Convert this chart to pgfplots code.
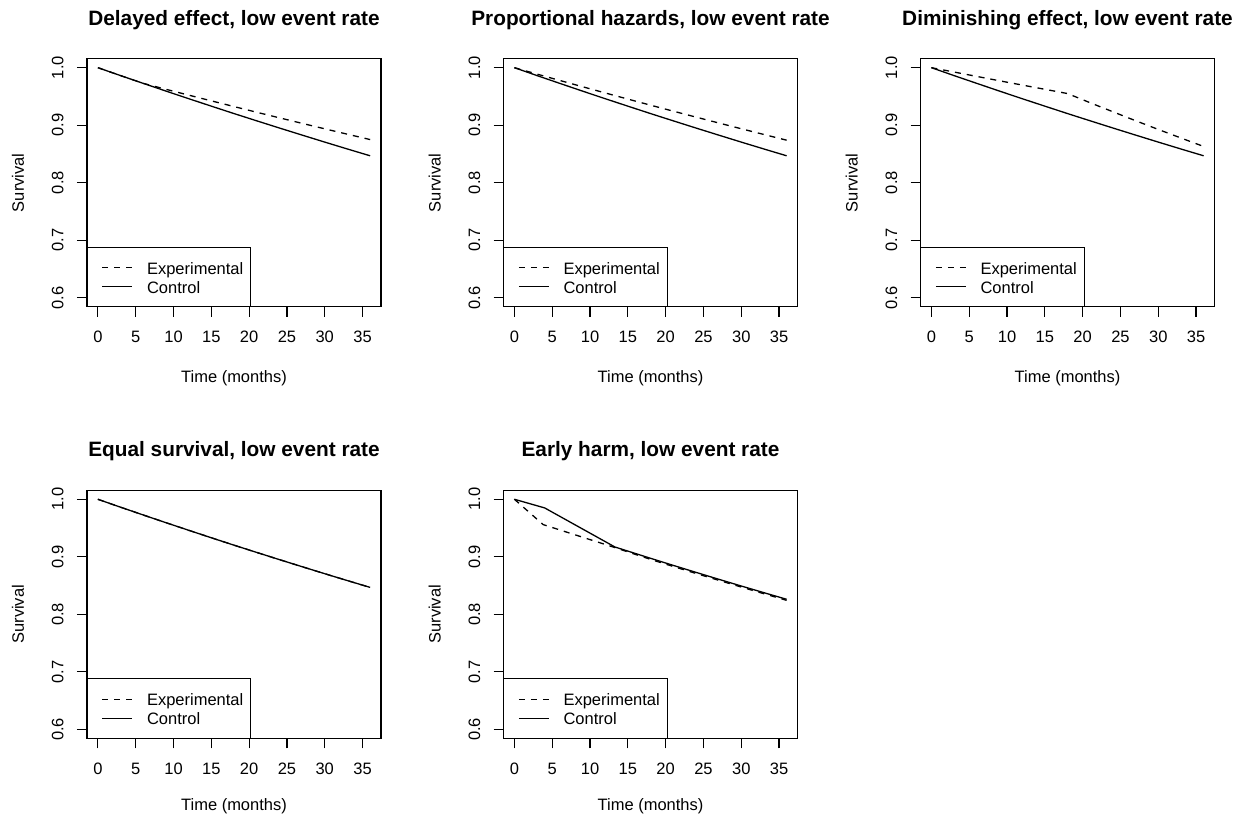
\documentclass[border=0pt]{standalone}
\usepackage{fontspec}
\setmainfont{Liberation Sans}
\usepackage{pgfplots}
\usepackage{pgfplotstable}
\pgfplotsset{compat=1.18}

% survival curves (months, survival)
\pgfplotstableread{
t s
0 1.0000
3 0.9862
6 0.9727
9 0.9593
12 0.9461
15 0.9331
18 0.9202
21 0.9076
24 0.8951
27 0.8828
30 0.8706
33 0.8586
36 0.8468
}\control

\pgfplotstableread{
t s
0 1.0000
3 0.9862
6 0.9727
9 0.9624
12 0.9523
15 0.9423
18 0.9324
21 0.9225
24 0.9128
27 0.9032
30 0.8937
33 0.8843
36 0.8750
}\delayed

\pgfplotstableread{
t s
0 1.0000
3 0.9888
6 0.9778
9 0.9669
12 0.9561
15 0.9454
18 0.9348
21 0.9244
24 0.9141
27 0.9039
30 0.8938
33 0.8838
36 0.8739
}\prop

\pgfplotstableread{
t s
0 1.0000
3 0.9924
6 0.9848
9 0.9772
12 0.9698
15 0.9624
18 0.9550
21 0.9390
24 0.9233
27 0.9078
30 0.8926
33 0.8777
36 0.8630
}\dimin

\pgfplotstableread{
t s
0 1.000
4 0.985
13.3 0.917
18 0.8974
21 0.8851
24 0.8730
27 0.8610
30 0.8492
33 0.8376
36 0.8261
}\harmctrl

\pgfplotstableread{
t s
0 1.000
3.8 0.956
13.3 0.916
18 0.8955
21 0.8832
24 0.8711
27 0.8592
30 0.8474
33 0.8358
36 0.8243
}\harmexp

\pgfplotsset{
  surv/.style={
    scale only axis, width=294pt, height=248pt,
    xmin=-1.44, xmax=37.44, ymin=0.5844, ymax=1.0156,
    xtick={0,5,10,15,20,25,30,35},
    xticklabels={0,5,10,15,20,25,30,35},
    ytick={0.6,0.7,0.8,0.9,1.0},
    yticklabels={0.6,0.7,0.8,0.9,1.0},
    tick pos=left, tick align=outside, major tick length=10pt,
    axis line style={line width=1.2pt},
    tick style={black, line width=1.2pt},
    xticklabel style={anchor=base, yshift=-26pt},
    yticklabel style={xshift=-13.5pt, rotate=90, anchor=base},
    title style={at={(axis description cs:0.5,1)}, anchor=base, yshift=27.5pt,
      font=\fontsize{20.8}{25}\selectfont\bfseries},
    every axis x label/.style={at={(axis description cs:0.5,0)}, anchor=base, yshift=-76pt},
    every axis y label/.style={at={(axis description cs:0,0.5)}, xshift=-63pt, rotate=90, anchor=base},
    xlabel={Time (months)}, ylabel={Survival},
    clip=false,
    legend style={draw=none, fill=none, at={(0,0)}, anchor=south west,
      xshift=14.7pt, yshift=11.7pt, inner sep=0pt, outer sep=0pt,
      row sep=2.5pt, column sep=14pt, cells={anchor=west},
      nodes={inner sep=0pt, text height=0.9em, text depth=0.1em},
      font=\fontsize{16.5}{20}\selectfont},
    legend image code/.code={
      \draw[##1] (0pt,0pt) -- (30pt,0pt);},
  },
  lowrow/.style={every axis x label/.append style={yshift=3.5pt}},
  exper/.style={black, line width=1.3pt, dash pattern=on 6pt off 6pt},
  ctrl/.style={black, line width=1.3pt},
}

\begin{document}
\fontsize{16.5}{20}\selectfont
\begin{tikzpicture}
\path[use as bounding box] (0pt,0pt) rectangle (1233pt,815pt);

\begin{axis}[surv, at={(87pt,508.3pt)}, anchor=south west,
  title={Delayed effect, low event rate}]
\addplot[exper] table[x=t,y=s] {\delayed};
\addplot[ctrl] table[x=t,y=s] {\control};
\legend{Experimental,Control}
\draw[line width=1.2pt] (rel axis cs:0,0) rectangle (axis cs:20.2,0.688);
\end{axis}

\begin{axis}[surv, at={(503.5pt,508.3pt)}, anchor=south west,
  title={Proportional hazards, low event rate}]
\addplot[exper] table[x=t,y=s] {\prop};
\addplot[ctrl] table[x=t,y=s] {\control};
\legend{Experimental,Control}
\draw[line width=1.2pt] (rel axis cs:0,0) rectangle (axis cs:20.2,0.688);
\end{axis}

\begin{axis}[surv, at={(920.5pt,508.3pt)}, anchor=south west,
  title={Diminishing effect, low event rate}]
\addplot[exper] table[x=t,y=s] {\dimin};
\addplot[ctrl] table[x=t,y=s] {\control};
\legend{Experimental,Control}
\draw[line width=1.2pt] (rel axis cs:0,0) rectangle (axis cs:20.2,0.688);
\end{axis}

\begin{axis}[surv, lowrow, at={(87pt,76.7pt)}, anchor=south west,
  title={Equal survival, low event rate}]
\addplot[exper] table[x=t,y=s] {\control};
\addplot[ctrl] table[x=t,y=s] {\control};
\legend{Experimental,Control}
\draw[line width=1.2pt] (rel axis cs:0,0) rectangle (axis cs:20.2,0.688);
\end{axis}

\begin{axis}[surv, lowrow, at={(503.5pt,76.7pt)}, anchor=south west,
  title={Early harm, low event rate}]
\addplot[exper] table[x=t,y=s] {\harmexp};
\addplot[ctrl] table[x=t,y=s] {\harmctrl};
\legend{Experimental,Control}
\draw[line width=1.2pt] (rel axis cs:0,0) rectangle (axis cs:20.2,0.688);
\end{axis}
\end{tikzpicture}
\end{document}
